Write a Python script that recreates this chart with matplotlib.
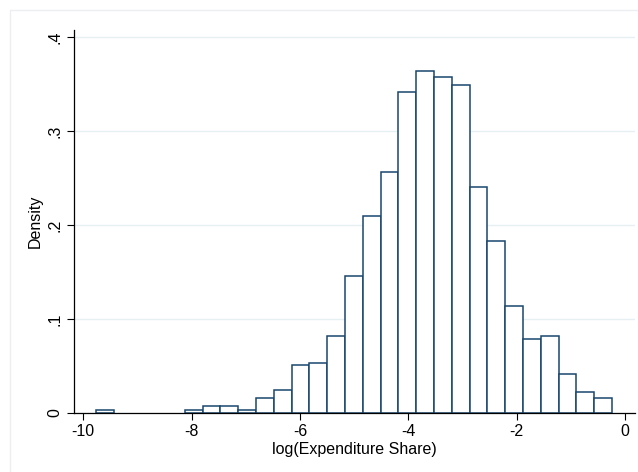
import numpy as np
import matplotlib
matplotlib.use("Agg")
import matplotlib.pyplot as plt
from matplotlib.patches import Rectangle

# histogram: 29 equal bins, density heights
bin_start = -9.766
bin_end = -0.240
density = [0.0032, 0.0, 0.0, 0.0, 0.0, 0.0032, 0.0071, 0.0071, 0.0032,
           0.016, 0.025, 0.0507, 0.0532, 0.0823, 0.1457, 0.2093, 0.2564,
           0.3419, 0.3638, 0.3578, 0.3486, 0.2404, 0.1834, 0.1138, 0.0787,
           0.0823, 0.0415, 0.0223, 0.016]
x_ticks = [-10, -8, -6, -4, -2, 0]
y_ticks = [0, 0.1, 0.2, 0.3, 0.4]
y_tick_labels = ["0", ".1", ".2", ".3", ".4"]

plt.rcParams['font.family'] = ['Liberation Sans', 'DejaVu Sans']

fig = plt.figure(figsize=(6.38, 4.72), dpi=100)
fig.patch.set_facecolor("white")
# faint frame of the graph region
fig.patches.append(Rectangle((10 / 638, -0.1), 1.1, (472 - 10) / 472 + 0.1,
                             transform=fig.transFigure, fill=False,
                             edgecolor="#eceff1", linewidth=1.0))

ax = fig.add_axes([73.5 / 638, 59 / 472, (635 - 73.5) / 638, (413 - 29.6) / 472])

edges = np.linspace(bin_start, bin_end, len(density) + 1)
widths = np.diff(edges)
for left, w, h in zip(edges[:-1], widths, density):
    if h > 0:
        ax.bar(left, h, width=w, align="edge", facecolor="white",
               edgecolor="#1a476f", linewidth=1.1, zorder=3)

ax.set_xlim(-10.18, 0.185)
ax.set_ylim(0, 0.4079)

ax.set_yticks(y_ticks)
ax.set_yticklabels(y_tick_labels, rotation=90, va="center")
ax.set_xticks(x_ticks)
ax.set_xticklabels([str(t) for t in x_ticks])
ax.tick_params(axis="both", direction="out", length=5, width=0.8,
               colors="black", labelsize=11.5, pad=3)

for y in y_ticks:
    ax.axhline(y, color="#e6eff1", linewidth=1.0, zorder=1)

for side in ["top", "right"]:
    ax.spines[side].set_visible(False)
for side in ["left", "bottom"]:
    ax.spines[side].set_linewidth(0.9)
    ax.spines[side].set_color("black")
    ax.spines[side].set_zorder(4)

ax.set_xlabel("log(Expenditure Share)", fontsize=11.5, labelpad=2)
ax.set_ylabel("Density", fontsize=11.5, labelpad=3)

fig.savefig("out.png", dpi=100)
